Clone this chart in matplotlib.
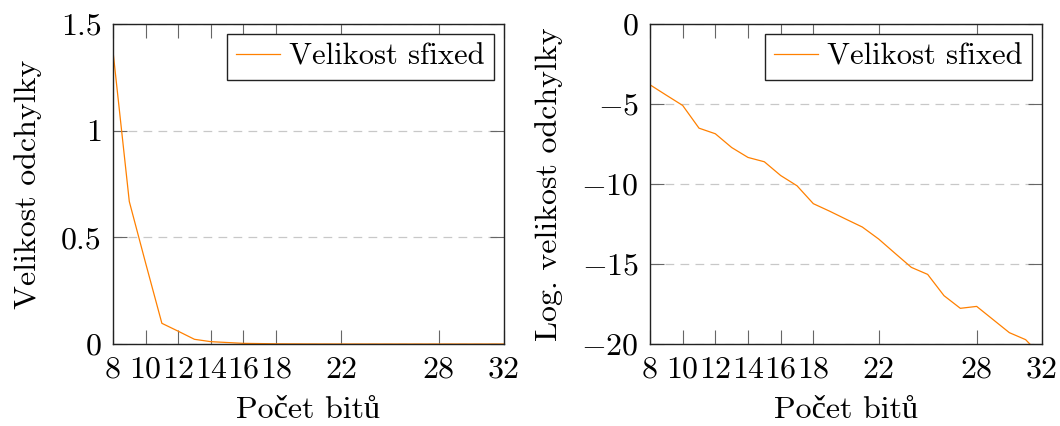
import matplotlib
matplotlib.use("Agg")
import matplotlib.pyplot as plt

# cmr10 looks like the LaTeX original; č and ů come from the fallback font
plt.rcParams['font.family'] = ['cmr10', 'Liberation Serif', 'DejaVu Serif']
plt.rcParams['mathtext.fontset'] = 'cm'
plt.rcParams['axes.unicode_minus'] = False

# data
bits = list(range(8, 33))
odchylka = [1.372, 0.668, 0.38, 0.097, 0.06, 0.022, 0.011, 0.007, 0.003,
            0.002, 0.001, 0.0007, 0.0004, 0.0002, 0.0001, 0.00006, 0.00003,
            0.00002, 0.00001, 0.000005, 0.000003, 0.000002, 0.000001,
            0.0000005, 0.0]
log_odchylka = [-3.80, -4.45, -5.09, -6.51, -6.86, -7.72, -8.34, -8.61,
                -9.47, -10.11, -11.23, -11.70, -12.20, -12.69, -13.44,
                -14.33, -15.21, -15.65, -16.98, -17.77, -17.65, -18.47,
                -19.29, -19.73, -20.8]
xticks = [8, 10, 12, 14, 16, 18, 22, 28, 32]
yticks_left = [0, 0.5, 1, 1.5]
yticklabels_left = ['0', '0.5', '1', '1.5']
yticks_right = [-20, -15, -10, -5, 0]
yticklabels_right = ['$-20$', '$-15$', '$-10$', '$-5$', '$0$']
xlabel = 'Počet bitů'

fs = 23
fig = plt.figure(figsize=(10.6, 4.26), dpi=100)
ax1 = fig.add_axes([113/1060, 82/426, 391/1060, 320/426])
ax2 = fig.add_axes([650/1060, 82/426, 392/1060, 320/426])


def style(ax, yticks, ylabels, ylim, ylabel, ylab_x):
    ax.set_xlim(8, 32)
    ax.set_ylim(*ylim)
    ax.set_xticks(xticks)
    ax.set_xticklabels([str(t) for t in xticks], fontsize=fs)
    ax.set_yticks(yticks)
    ax.set_yticklabels(ylabels, fontsize=fs)
    ax.tick_params(direction='in', top=True, right=True, length=10,
                   width=0.8, color='#666666')
    ax.tick_params(axis='x', pad=9)
    ax.tick_params(axis='y', pad=8)
    ax.yaxis.grid(True, linestyle=(0, (7, 5)), color='#c8c8c8', linewidth=0.9)
    ax.set_axisbelow(True)
    for s in ax.spines.values():
        s.set_linewidth(1.0)
        s.set_color('#222222')
    ax.set_xlabel(xlabel, fontsize=fs)
    ax.xaxis.set_label_coords(0.5, -0.165)
    ax.set_ylabel(ylabel, fontsize=fs)
    ax.yaxis.set_label_coords(ylab_x, 0.5)
    leg = ax.legend(loc='upper right', fontsize=22, fancybox=False,
                    framealpha=1, edgecolor='#222222', borderaxespad=0.33,
                    handlelength=1.45, handletextpad=0.3, borderpad=0.3)
    leg.get_frame().set_linewidth(1.0)


ax1.plot(bits, odchylka, color='#ff8000', linewidth=0.9, label='Velikost sfixed')
style(ax1, yticks_left, yticklabels_left, (0, 1.5), 'Velikost odchylky', -0.182)

ax2.plot(bits, log_odchylka, color='#ff8000', linewidth=0.9, label='Velikost sfixed')
style(ax2, yticks_right, yticklabels_right, (-20, 0), 'Log. velikost odchylky', -0.222)

fig.savefig('out.png', dpi=100)
